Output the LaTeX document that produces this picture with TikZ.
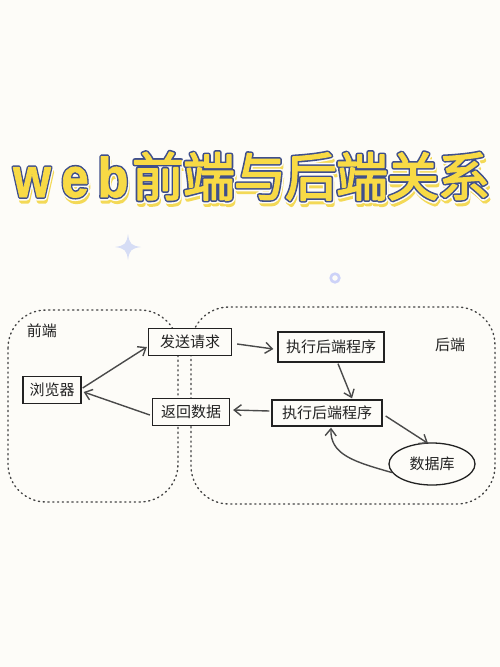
\documentclass[tikz,border=0pt]{standalone}
\usepackage{fontspec}
\usetikzlibrary{arrows.meta,shapes.geometric}
\newfontfamily\cjk{Noto Sans CJK SC}
\newfontfamily\cjkY[FakeBold=3]{Noto Sans CJK SC}
\newfontfamily\cjkB[FakeBold=9]{Noto Sans CJK SC}
\newfontfamily\cjkW[FakeBold=15]{Noto Sans CJK SC}
\newfontfamily\cjkS[FakeBold=9]{Noto Sans CJK SC}
\newfontfamily\latYf[BoldFeatures={FakeBold=1.5}]{Liberation Sans}
\newfontfamily\latBf[BoldFeatures={FakeBold=7}]{Liberation Sans}
\newfontfamily\latWf[BoldFeatures={FakeBold=12.5}]{Liberation Sans}
\newfontfamily\latSf[BoldFeatures={FakeBold=7.5}]{Liberation Sans}
\newcommand{\latY}{\latYf\bfseries}
\newcommand{\latB}{\latBf\bfseries}
\newcommand{\latW}{\latWf\bfseries}
\newcommand{\latS}{\latSf\bfseries}
\definecolor{bgc}{HTML}{FDFCF8}
\definecolor{ttlyel}{HTML}{F8DA45}
\definecolor{ttlshd}{HTML}{F3D957}
\definecolor{ttlblue}{HTML}{3F4F8C}
\definecolor{deco}{HTML}{D6DDF5}
\definecolor{ink}{HTML}{222222}
\definecolor{arrc}{HTML}{4A4A4A}
\newcommand{\ttlch}[6]{% name, x, baseline y, glyph, font prefix, size
  \node[ttlbase,text=ttlshd,font={\csname #5S\endcsname\fontsize{#6}{#6}\selectfont}]
    (#1s) at ({#2+1.5},{#3+4.5}) {#4};
  \node[ttlbase,text=bgc,font={\csname #5W\endcsname\fontsize{#6}{#6}\selectfont}]
    (#1w) at (#2,#3) {#4};
  \node[ttlbase,text=ttlblue,font={\csname #5B\endcsname\fontsize{#6}{#6}\selectfont}]
    (#1b) at (#2,#3) {#4};
  \node[ttlbase,text=ttlyel,font={\csname #5Y\endcsname\fontsize{#6}{#6}\selectfont}]
    (#1) at (#2,#3) {#4};
}
\tikzset{
  ttlbase/.style={inner sep=0pt,anchor=base},
  boxn/.style={draw=ink,line width=1.3pt,fill=bgc,text=ink,inner sep=2pt,
    font=\cjk\fontsize{15}{18}\selectfont},
  dbn/.style={ellipse,draw=ink,line width=1.3pt,fill=bgc,text=ink,inner sep=0pt,
    font=\cjk\fontsize{15}{18}\selectfont},
  lbl/.style={text=ink,inner sep=0pt,font=\cjk\fontsize{15}{18}\selectfont},
  area/.style={draw=ink!85,line width=1.4pt,dash pattern=on 1.2pt off 3.6pt,line cap=round,rounded corners=38pt},
  arr/.style={draw=arrc,line width=1.4pt,-{Straight Barb[length=7pt,width=11pt]}},
}
\begin{document}
\begin{tikzpicture}[x=1pt,y=-1pt]
\fill[bgc] (0,0) rectangle (500,667);
\useasboundingbox (0,0) rectangle (500,667);
% title
\begin{scope}[line join=round]
\ttlch{tw}{32}{197}{\scalebox{0.86}[1]{w}}{lat}{56}
\ttlch{te}{75}{197}{\scalebox{0.88}[1]{e}}{lat}{56}
\ttlch{tb}{113}{197}{\scalebox{0.9}[1]{b}}{lat}{56}
\ttlch{t1}{158}{196}{前}{cjk}{52}
\ttlch{t2}{209}{196}{端}{cjk}{52}
\ttlch{t3}{260}{196}{与}{cjk}{52}
\ttlch{t4}{311}{196}{后}{cjk}{52}
\ttlch{t5}{362}{196}{端}{cjk}{52}
\ttlch{t6}{413}{196}{关}{cjk}{52}
\ttlch{t7}{464}{196}{系}{cjk}{52}
\end{scope}
% decorations
\fill[deco] (128,234) .. controls (129.5,244) and (131,245.5) .. (141,247)
  .. controls (131,248.5) and (129.5,250) .. (128,260)
  .. controls (126.5,250) and (125,248.5) .. (115,247)
  .. controls (125,245.5) and (126.5,244) .. cycle;
\draw[deco!90!blue!80,line width=2.6pt] (335,278) circle (4.3);
% areas
\draw[area] (8,310) rectangle (178,502);
\draw[area] (191,307) rectangle (495,504);
\node[lbl] (fe) at (42,331) {前端};
\node[lbl] (be) at (450,345) {后端};
% nodes
\node[boxn,minimum width=58pt,minimum height=27pt] (br) at (52,390) {浏览器};
\node[boxn,minimum width=83pt,minimum height=27pt] (req) at (190,342) {发送请求};
\node[boxn,minimum width=77pt,minimum height=27pt] (ret) at (191,412) {返回数据};
\node[boxn,minimum width=106pt,minimum height=30pt] (exe1) at (331,347) {执行后端程序};
\node[boxn,minimum width=110pt,minimum height=26pt] (exe2) at (327,413) {执行后端程序};
\node[dbn,minimum width=86pt,minimum height=42pt] (db) at (432,464) {数据库};
% connectors
\draw[arr] ([xshift=1pt,yshift=2pt]br.east) -- ([xshift=-1pt,yshift=-5pt]req.west);
\draw[arr] ([xshift=-2pt,yshift=-3pt]ret.west) -- ([xshift=2pt,yshift=-2pt]br.east);
\draw[arr] ([xshift=5pt,yshift=-2pt]req.east) -- ([xshift=-4pt,yshift=-2pt]exe1.west);
\draw[arr] ([xshift=7pt,yshift=-1pt]exe1.south) -- ([xshift=25pt,yshift=1pt]exe2.north);
\draw[arr] ([xshift=-2pt,yshift=2pt]exe2.west) -- ([xshift=3pt,yshift=2pt]ret.east);
\draw[arr] ([xshift=3pt,yshift=-3pt]exe2.east) -- ([xshift=-4pt,yshift=-1pt]db.north);
\draw[arr] (db.192) .. controls (355,462) and (330,455) .. ([xshift=4pt,yshift=-1pt]exe2.south);
\end{tikzpicture}
\end{document}
